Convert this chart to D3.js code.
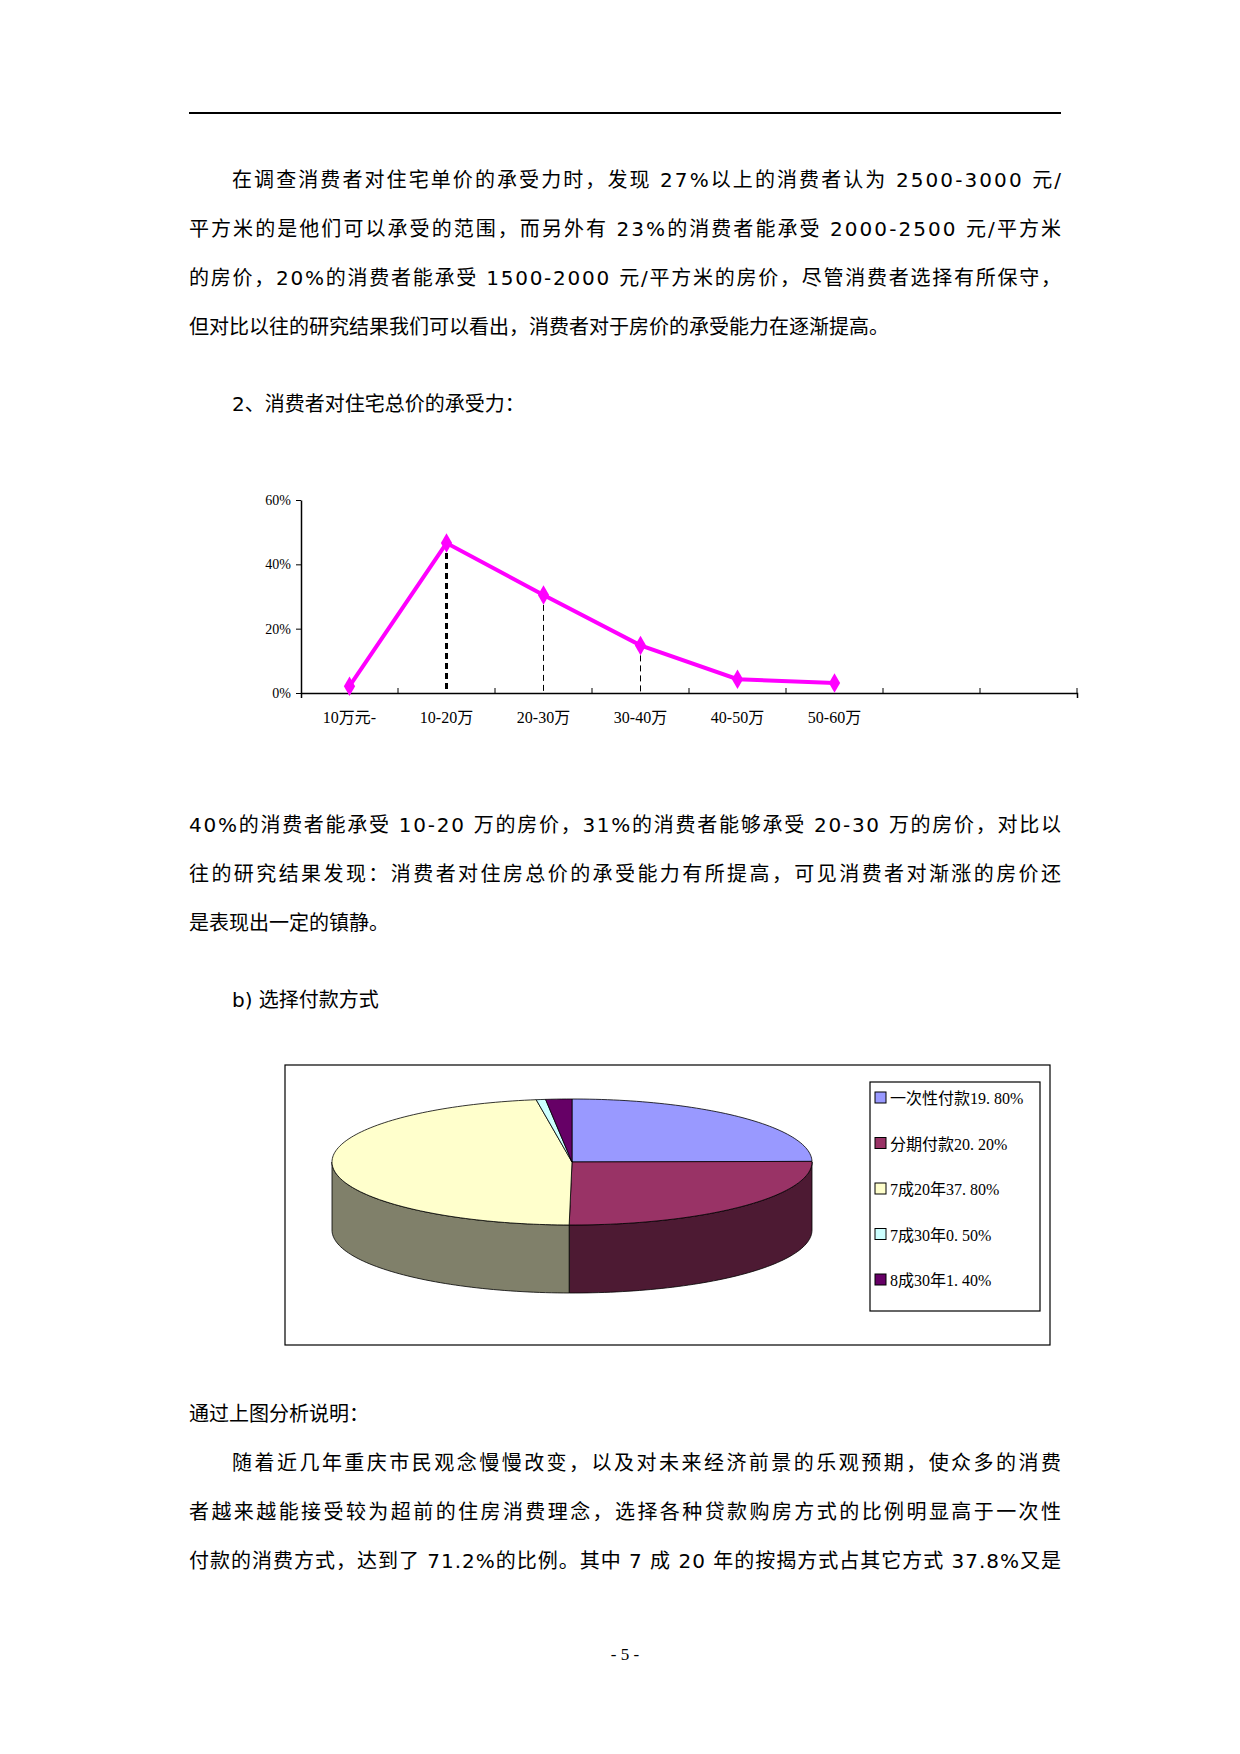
<!DOCTYPE html>
<html><head><meta charset="utf-8">
<script src="https://cdn.jsdelivr.net/npm/d3@7"></script>
<style>body{margin:0;background:#fff}</style></head>
<body><svg id="c" width="1240" height="1754"></svg>
<script>
const lineCats = ["10万元-","10-20万","20-30万","30-40万","40-50万","50-60万","",""];
const lineVals = [2.1,46.6,30.5,14.8,4.3,3.1];
const yTicks = [0,20,40,60];
const pieCats = ["一次性付款19. 80%","分期付款20. 20%","7成20年37. 80%","7成30年0. 50%","8成30年1. 40%"];
const pieVals = [19.8,20.2,37.8,0.5,1.4];
const pieTop = ["#9999FF","#993366","#FFFFCC","#CCFFFF","#660066"];
const pieSide = ["#4d4d80","#4d1a33","#80806a","#668080","#330033"];
const para1 = ["在调查消费者对住宅单价的承受力时，发现 27%以上的消费者认为 2500-3000 元/",
"平方米的是他们可以承受的范围，而另外有 23%的消费者能承受 2000-2500 元/平方米",
"的房价，20%的消费者能承受 1500-2000 元/平方米的房价，尽管消费者选择有所保守，",
"但对比以往的研究结果我们可以看出，消费者对于房价的承受能力在逐渐提高。"];
const para2 = ["40%的消费者能承受 10-20 万的房价，31%的消费者能够承受 20-30 万的房价，对比以",
"往的研究结果发现：消费者对住房总价的承受能力有所提高，可见消费者对渐涨的房价还",
"是表现出一定的镇静。"];
const para3 = ["随着近几年重庆市民观念慢慢改变，以及对未来经济前景的乐观预期，使众多的消费",
"者越来越能接受较为超前的住房消费理念，选择各种贷款购房方式的比例明显高于一次性",
"付款的消费方式，达到了 71.2%的比例。其中 7 成 20 年的按揭方式占其它方式 37.8%又是"];

const svg = d3.select("#c");
const F = "'DejaVu Sans','Noto Sans CJK SC',sans-serif";
svg.append("line").attr("x1",189).attr("x2",1061).attr("y1",113).attr("y2",113).attr("stroke","#000").attr("stroke-width",2);
function para(lines, x0, y0, gap, firstIndent, fullLast){
  lines.forEach((t,i)=>{
    const x = (i===0&&firstIndent)?232:x0;
    const tx = svg.append("text").attr("x",x).attr("y",y0+i*gap).attr("font-family",F).attr("font-size",20).text(t);
    if(i<lines.length-1 || fullLast) tx.attr("textLength",1061-x).attr("lengthAdjust","spacing");
  });
}
para(para1,189,187,49,true,false);
svg.append("text").attr("x",232).attr("y",411).attr("font-family",F).attr("font-size",20).text("2、消费者对住宅总价的承受力：");
para(para2,189,832,49,false,false);
svg.append("text").attr("x",232).attr("y",1007).attr("font-family",F).attr("font-size",20).text("b)    选择付款方式");
svg.append("text").attr("x",189).attr("y",1421).attr("font-family",F).attr("font-size",20).text("通过上图分析说明：");
para(para3,189,1470,49,true,true);
svg.append("text").attr("x",625).attr("y",1660).attr("text-anchor","middle").attr("font-family","'Liberation Serif',serif").attr("font-size",17).text("- 5 -");

// line chart
const x = d3.scaleBand().domain(lineCats.map((d,i)=>i)).range([301,1077]);
const y = d3.scaleLinear().domain([0,60]).range([693,500]);
const cf = "'Liberation Serif','Noto Sans CJK SC',serif";
svg.append("g").attr("transform","translate(0,693)").call(d3.axisBottom(x).tickSize(5).tickFormat(()=>"").tickSizeOuter(5))
  .call(g=>{g.select(".domain").attr("stroke-width",1.5);g.selectAll(".tick line").attr("transform","translate("+(x.bandwidth()/2)+",0)").attr("y1",-5).attr("y2",0);});
svg.append("g").attr("transform","translate(301,0)").call(d3.axisLeft(y).tickValues(yTicks).tickFormat(d=>d+"%").tickSize(5).tickSizeOuter(0))
  .call(g=>{g.select(".domain").attr("stroke-width",1.5);g.selectAll("text").attr("font-family",cf).attr("font-size",14).attr("x",-10);});
lineCats.forEach((c,i)=>{ if(c) svg.append("text").attr("x",x(i)+x.bandwidth()/2).attr("y",723).attr("text-anchor","middle").attr("font-family",cf).attr("font-size",16).text(c);});
[1,2,3].forEach(i=>{
  svg.append("line").attr("x1",x(i)+x.bandwidth()/2).attr("x2",x(i)+x.bandwidth()/2).attr("y1",y(lineVals[i])).attr("y2",693)
   .attr("stroke","#000").attr("stroke-width",i===1?3:1).attr("stroke-dasharray",i===1?"6,4":"6,4");
});
const cx = i=>x(i)+x.bandwidth()/2;
svg.append("path").datum(lineVals).attr("d",d3.line().x((d,i)=>cx(i)).y(d=>y(d))).attr("fill","none").attr("stroke","#FF00FF").attr("stroke-width",4);
svg.selectAll(".mk").data(lineVals).join("path").attr("d",d3.symbol(d3.symbolDiamond,110)).attr("transform",(d,i)=>`translate(${cx(i)},${y(d)})`).attr("fill","#FF00FF");

// pie
svg.append("rect").attr("x",285).attr("y",1065).attr("width",765).attr("height",280).attr("fill","none").attr("stroke","#000").attr("stroke-width",1.2);
const pcx=572, pcy=1162, rx=240, ry=63, dep=68;
const arcs = d3.pie().sort(null).value(d=>d)(pieVals);
const P=(t,dy)=>[pcx+rx*Math.sin(t), pcy-ry*Math.cos(t)+dy];
const ln = d3.line();
function samp(a,b,dy){const n=Math.max(2,Math.ceil((b-a)*40)),r=[];for(let k=0;k<=n;k++)r.push(P(a+(b-a)*k/n,dy));return r;}
arcs.forEach((a,i)=>{
  const s=Math.max(a.startAngle,Math.PI/2), e=Math.min(a.endAngle,3*Math.PI/2);
  if(e>s){ const pts=samp(s,e,0).concat(samp(s,e,dep).reverse());
    svg.append("path").attr("d",ln(pts)+"Z").attr("fill",pieSide[i]).attr("stroke","#000").attr("stroke-width",0.8);}
});
arcs.forEach((a,i)=>{
  const pts=[[pcx,pcy]].concat(samp(a.startAngle,a.endAngle,0));
  svg.append("path").attr("d",ln(pts)+"Z").attr("fill",pieTop[i]).attr("stroke","#000").attr("stroke-width",0.8);
});
svg.append("rect").attr("x",870).attr("y",1082).attr("width",170).attr("height",229).attr("fill","#fff").attr("stroke","#000").attr("stroke-width",1.2);
pieCats.forEach((c,i)=>{
  const yy=1098+i*45.5;
  svg.append("rect").attr("x",875).attr("y",yy-6).attr("width",11).attr("height",11).attr("fill",pieTop[i]).attr("stroke","#000");
  svg.append("text").attr("x",890).attr("y",yy+6).attr("font-family",cf).attr("font-size",16).text(c);
});
</script></body></html>
